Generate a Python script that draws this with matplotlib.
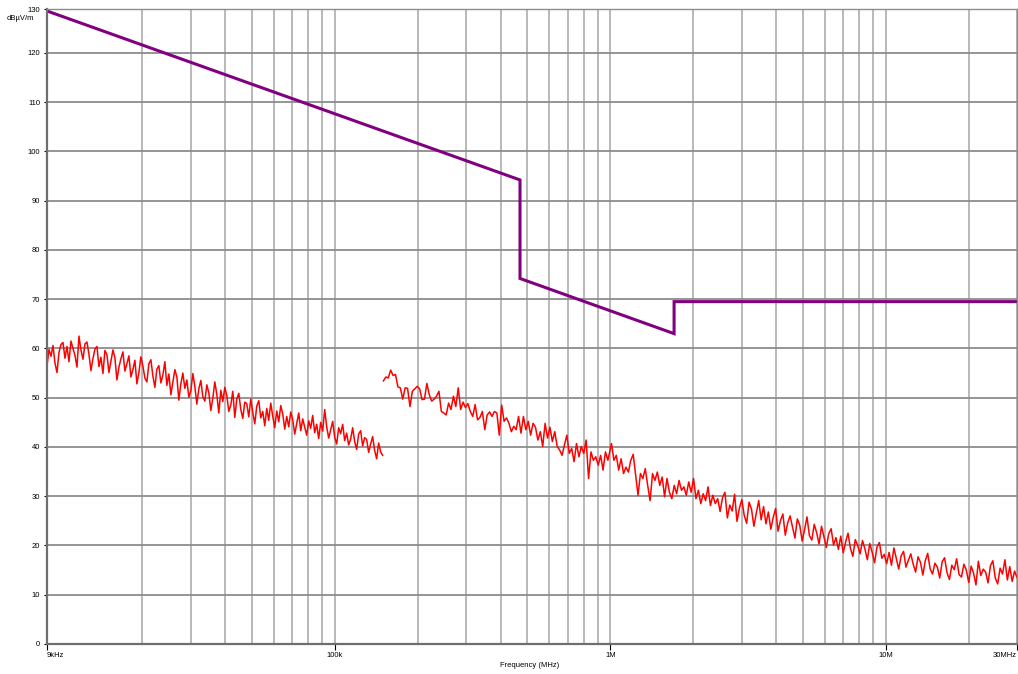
import numpy as np
import matplotlib
matplotlib.use("Agg")
import matplotlib.pyplot as plt
from matplotlib.ticker import NullFormatter

plt.rcParams['font.family'] = ['Liberation Sans', 'DejaVu Sans']

# --- limit line, breakpoints in Hz / dBuV/m ---
limit_freq = [9e3, 470e3, 470e3, 1.705e6, 1.705e6, 30e6]
limit_level = [128.5, 94.2, 74.2, 63.0, 69.5, 69.5]

# --- measured trace, read off the plot ---
# sweep 1: 9 kHz .. 150 kHz
sweep1_start, sweep1_stop = 9e3, 149e3
sweep1_level = [
    56.5, 59.8, 58.4, 60.6, 57.0, 55.1, 59.2, 60.8, 61.2, 58.0,
    60.4, 57.3, 61.5, 60.0, 58.6, 56.2, 62.5, 59.7, 57.8, 60.9,
    61.3, 58.8, 55.5, 57.9, 59.9, 60.4, 56.3, 58.2, 54.9, 59.6,
    58.7, 55.1, 57.4, 59.7, 58.1, 53.6, 56.2, 57.9, 59.3, 55.4,
    56.9, 58.5, 54.2, 55.7, 57.6, 52.8, 55.1, 58.3, 56.4, 54.0,
    53.2, 56.9, 57.7, 54.4, 52.1, 55.8, 56.5, 53.0, 54.6, 57.3,
    52.5, 54.8, 50.6, 53.1, 55.7, 54.2, 49.5, 52.8, 55.0, 51.9,
    53.6, 50.1, 51.4, 54.9, 52.3, 48.7, 51.8, 53.5, 50.2, 49.3,
    52.6, 51.0, 47.4, 49.9, 53.2, 50.7, 46.9, 51.5, 49.2, 52.1,
    50.4, 47.2, 48.5, 51.3, 46.0, 49.7, 50.9, 47.6, 45.8, 49.1,
    48.8, 46.1, 49.7, 47.0, 44.7, 48.3, 49.4, 45.9, 47.2, 44.3,
    47.8, 45.4, 48.9, 46.2, 43.9, 47.3, 45.1, 48.4, 46.7, 43.6,
    46.2, 44.1, 47.1, 45.5, 42.6, 44.8, 46.9, 43.3, 45.7, 44.0,
    42.4, 45.3, 43.8, 46.4, 42.9, 44.6, 41.7, 45.0, 43.2, 47.6,
    44.1, 41.8, 43.5, 45.2, 42.0, 40.6, 43.9, 42.7, 44.6, 41.3,
    42.8, 40.4, 41.6, 43.9, 41.1, 39.5, 42.6, 43.3, 40.2, 41.9,
    41.5, 38.9, 40.6, 42.1, 39.3, 37.6, 40.8, 39.0, 38.3,
]

# sweep 2a: 150 kHz .. 1 MHz
sweep2a_start, sweep2a_stop = 150e3, 1e6
sweep2a_level = [
    53.4, 54.2, 54.0, 55.6, 54.5, 54.7, 52.2, 52.0, 49.7, 52.0,
    51.9, 48.2, 51.3, 51.8, 52.3, 51.8, 49.6, 49.7, 52.9, 50.6,
    49.3, 49.7, 50.3, 51.3, 47.2, 46.9, 46.5, 48.9, 47.6, 50.3,
    48.2, 52.0, 47.6, 49.1, 48.0, 48.8, 47.2, 46.2, 48.6, 45.5,
    46.0, 47.2, 43.5, 46.5, 47.1, 46.2, 47.2, 46.9, 42.4, 48.5,
    45.2, 45.9, 44.8, 43.1, 44.2, 43.5, 46.2, 42.8, 46.2, 43.5,
    45.2, 42.4, 44.8, 44.0, 41.4, 43.1, 40.1, 44.8, 41.8, 44.0,
    41.1, 43.1, 40.1, 39.4, 38.3, 40.4, 42.4, 38.7, 39.7, 37.0,
    40.7, 38.0, 40.1, 38.7, 41.4, 33.6, 39.0, 37.3, 38.0, 36.3,
    38.3, 35.3, 39.0, 37.3,
]

# sweep 2b: 1 MHz .. 30 MHz
sweep2b_start, sweep2b_stop = 1.01e6, 30e6
sweep2b_level = [
    40.7, 37.3, 38.3, 35.3, 37.6, 34.6, 35.9, 34.9, 37.3, 38.5,
    34.3, 30.2, 34.6, 33.6, 35.6, 32.2, 29.1, 34.6, 33.2, 34.9,
    32.2, 33.9, 29.9, 33.6, 30.8, 29.5, 32.2, 30.5, 33.2, 31.2,
    31.9, 30.2, 32.9, 30.8, 33.6, 29.5, 31.2, 28.5, 30.5, 29.1,
    31.9, 28.1, 30.2, 28.5, 29.5,
    26.9, 29.7, 30.8, 25.6, 28.2, 27.0, 30.4, 24.9, 27.6, 29.3,
    26.1, 24.5, 28.8, 27.4, 23.9, 26.6, 29.1, 25.2, 27.9, 24.4,
    26.8, 23.3, 25.7, 27.5, 22.9, 25.0, 26.4, 22.1, 24.6, 26.0,
    23.7, 21.5, 25.4, 24.1, 20.9, 23.2, 25.8, 22.0, 21.1, 24.3,
    22.6, 20.3, 23.9, 21.8, 19.6, 22.4, 23.4, 20.1, 21.6, 19.2,
    21.9, 18.5, 20.7, 22.5, 19.4, 17.8, 21.2, 20.0, 18.3, 21.0,
    19.3, 17.1, 20.4, 18.6, 16.5, 19.7, 20.6, 17.4, 18.2, 16.3,
    18.6, 16.0, 19.5, 17.3, 15.2, 17.9, 18.8, 15.6, 17.0, 18.3,
    16.2, 14.6, 17.7, 16.6, 14.0, 16.9, 18.4, 15.3, 14.2, 16.4,
    15.6, 13.4, 16.7, 17.5, 14.5, 13.1, 16.0, 15.1, 17.3, 14.1,
    13.6, 16.2, 15.0, 12.5, 15.8, 14.4, 12.0, 16.8, 13.9, 15.2,
    14.6, 12.4, 15.9, 16.9, 13.4, 12.2, 15.4, 14.2, 17.1, 13.0,
    15.7, 12.7, 14.8, 13.5,
]

x_ticks = [9e3, 100e3, 1e6, 10e6, 30e6]
x_labels = ["9kHz", "100k", "1M", "10M", "30MHz"]
# the top gridline sits a bit under 130 but is labelled 130
y_top = 128.9
y_ticks = list(range(0, 121, 10)) + [y_top]
y_labels = [str(v) for v in range(0, 121, 10)] + ["130"]

# sweep points are log spaced between start and stop
f1 = np.geomspace(sweep1_start, sweep1_stop, len(sweep1_level))
f2 = np.concatenate([
    np.geomspace(sweep2a_start, sweep2a_stop, len(sweep2a_level), endpoint=False),
    np.geomspace(sweep2b_start, sweep2b_stop, len(sweep2b_level)),
])
lvl2 = np.array(sweep2a_level + sweep2b_level)

fig = plt.figure(figsize=(10.18, 6.74), dpi=100)
ax = fig.add_axes([47 / 1018, 30 / 674, 970 / 1018, 635 / 674])

ax.set_xscale("log")
ax.set_xlim(9e3, 30e6)
ax.set_ylim(0, y_top)

# grid
ax.set_yticks(y_ticks)
ax.set_yticklabels(y_labels)
ax.yaxis.grid(True, color="#8c8c8c", lw=1.3)
ax.xaxis.grid(True, which="both", color="#a6a6a6", lw=1.1)
ax.set_axisbelow(True)

ax.plot(f1, sweep1_level, color="#ff0000", lw=1.1)
ax.plot(f2, lvl2, color="#ff0000", lw=1.1)
ax.plot(limit_freq, limit_level, color="#800080", lw=2.2, solid_joinstyle="miter")

ax.set_xticks(x_ticks)
ax.set_xticklabels(x_labels)
ax.xaxis.set_minor_formatter(NullFormatter())
labels = ax.get_xticklabels()
labels[0].set_horizontalalignment("left")
labels[-1].set_horizontalalignment("right")

ax.tick_params(axis="both", which="major", labelsize=5.5, length=4, width=0.8,
               color="black", pad=2)
ax.tick_params(axis="x", which="minor", length=0)
ax.tick_params(axis="y", length=2, pad=3)

for side in ["left", "bottom"]:
    ax.spines[side].set_color("#6e6e6e")
    ax.spines[side].set_linewidth(1.6)
for side in ["top", "right"]:
    ax.spines[side].set_color("#8c8c8c")
    ax.spines[side].set_linewidth(1.0)

fig.text(20 / 1018, 1 - 18 / 674, "dBµV/m", fontsize=5.5, ha="center", va="center")
ax.set_xlabel("Frequency (MHz)", fontsize=5.5, labelpad=3)
ax.xaxis.set_label_coords(0.498, -0.028)

fig.savefig("out.png", dpi=100)
